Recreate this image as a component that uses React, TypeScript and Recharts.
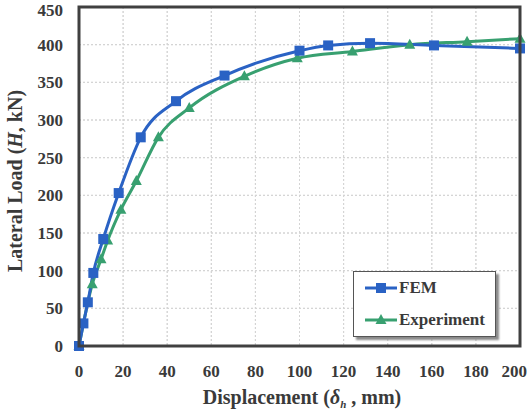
import React from "react"
import { LineChart, Line, XAxis, YAxis, CartesianGrid, Label } from "recharts"

// displacement (mm) / lateral load (kN) pairs
const femDisp = [0, 2, 4, 6.5, 11, 18, 28, 44, 66, 100, 113, 132, 161, 200]
const femLoad = [0, 30, 58, 97, 142, 203, 277, 325, 359, 392, 399, 402, 399, 395]

const expDisp = [0, 6, 10, 13, 19, 26, 36, 50, 75, 99, 124, 150, 176, 200]
const expLoad = [0, 82, 115, 140, 181, 219, 277, 316, 358, 382, 391, 400, 404, 408]

const xTicks = [0, 20, 40, 60, 80, 100, 120, 140, 160, 180, 200]
const yTicks = [0, 50, 100, 150, 200, 250, 300, 350, 400, 450]

const femData = femDisp.map((d, i) => ({ disp: d, load: femLoad[i] }))
const expData = expDisp.map((d, i) => ({ disp: d, load: expLoad[i] }))

const W = 527
const H = 411
const MARGIN = { top: 7, right: 7, bottom: 0, left: 0 }
const Y_AXIS_W = 79
const X_AXIS_H = 65
// plot box that follows from the margins and axis sizes above
const PLOT = {
  x: MARGIN.left + Y_AXIS_W,
  y: MARGIN.top,
  w: W - MARGIN.left - MARGIN.right - Y_AXIS_W,
  h: H - MARGIN.top - MARGIN.bottom - X_AXIS_H,
}

const BLUE = "#2a62c4"
const GREEN = "#38a070"
const INK = "#3a3a3a"
const FRAME = "#404040"
const GRID = "#d4d4d4"
const SERIF = "Liberation Serif"

const tickStyle = { fill: INK, fontSize: 17, fontWeight: "bold", fontFamily: SERIF }

const gx = (v: number) => PLOT.x + ((v - xTicks[0]) / (xTicks[xTicks.length - 1] - xTicks[0])) * PLOT.w
const gy = (v: number) => PLOT.y + PLOT.h - ((v - yTicks[0]) / (yTicks[yTicks.length - 1] - yTicks[0])) * PLOT.h

// dotted grid, sits under the chart svg
const GridLayer = () => (
  <svg width={W} height={H} style={{ position: "absolute", left: 0, top: 0, pointerEvents: "none" }}>
    {xTicks.slice(1, -1).map((v) => (
      <line key={`gx-${v}`} x1={gx(v)} x2={gx(v)} y1={PLOT.y} y2={PLOT.y + PLOT.h} stroke={GRID} strokeDasharray="2 2" />
    ))}
    {yTicks.slice(1, -1).map((v) => (
      <line key={`gy-${v}`} x1={PLOT.x} x2={PLOT.x + PLOT.w} y1={gy(v)} y2={gy(v)} stroke={GRID} strokeDasharray="2 2" />
    ))}
  </svg>
)

// dark box around the plot, sits over the chart svg
const FrameLayer = () => (
  <svg width={W} height={H} style={{ position: "absolute", left: 0, top: 0, pointerEvents: "none" }}>
    <rect x={PLOT.x} y={PLOT.y} width={PLOT.w} height={PLOT.h} fill="none" stroke={FRAME} strokeWidth={3} />
  </svg>
)

const SquareDot = (props: any) => {
  const { cx, cy, index } = props
  return <rect key={`sq-${index}`} x={cx - 5} y={cy - 5} width={10} height={10} fill={BLUE} />
}

const TriangleDot = (props: any) => {
  const { cx, cy, index } = props
  return (
    <polygon
      key={`tr-${index}`}
      points={`${cx},${cy - 6} ${cx - 5.5},${cy + 4} ${cx + 5.5},${cy + 4}`}
      fill={GREEN}
    />
  )
}

const legendItems = [
  { name: "FEM", color: BLUE, shape: "square" },
  { name: "Experiment", color: GREEN, shape: "triangle" },
]

const LegendBox = () => (
  <div
    style={{
      position: "absolute",
      left: 353,
      top: 271,
      width: 143,
      height: 66,
      background: "#fff",
      border: "1px solid #555",
      boxShadow: "3px 3px 2px #8a8a8a",
      fontFamily: SERIF,
      fontWeight: "bold",
      fontSize: 17,
      color: INK,
      boxSizing: "border-box",
    }}
  >
    {legendItems.map((it) => (
      <div key={it.name} style={{ display: "flex", alignItems: "center", height: 32, paddingLeft: 11 }}>
        <svg width={32} height={14} style={{ marginRight: 2 }}>
          <line x1={0} y1={7} x2={32} y2={7} stroke={it.color} strokeWidth={3} />
          {it.shape === "square" ? (
            <rect x={11} y={2} width={10} height={10} fill={it.color} />
          ) : (
            <polygon points="16,1 10.5,11 21.5,11" fill={it.color} />
          )}
        </svg>
        <span>{it.name}</span>
      </div>
    ))}
  </div>
)

export default function App() {
  return (
    <div style={{ position: "absolute", left: 0, top: 0, width: W, height: H, background: "#fff" }}>
      <GridLayer />
      <div style={{ position: "absolute", left: 0, top: 0 }}>
        <LineChart width={W} height={H} data={femData} margin={MARGIN}>
          <CartesianGrid stroke={GRID} strokeDasharray="2 2" />
          <XAxis
            dataKey="disp"
            type="number"
            domain={[0, 200]}
            ticks={xTicks}
            axisLine={false}
            tickLine={false}
            tickMargin={13}
            height={X_AXIS_H}
            tick={tickStyle}
          >
            <Label
              content={() => (
                <text x={302} y={404} textAnchor="middle" fill={INK} fontFamily={SERIF} fontWeight="bold" fontSize={20}>
                  Displacement (<tspan fontStyle="italic">δ</tspan>
                  <tspan fontSize={11} dy={4} fontStyle="italic">h</tspan>
                  <tspan dy={-4}> , mm)</tspan>
                </text>
              )}
            />
          </XAxis>
          <YAxis
            type="number"
            domain={[0, 450]}
            ticks={yTicks}
            axisLine={false}
            tickLine={false}
            tickMargin={10}
            width={Y_AXIS_W}
            tick={tickStyle}
          >
            <Label
              content={() => (
                <text
                  x={15}
                  y={181}
                  transform="rotate(-90, 15, 181)"
                  textAnchor="middle"
                  dy="0.35em"
                  fill={INK}
                  fontFamily={SERIF}
                  fontWeight="bold"
                  fontSize={20}
                >
                  Lateral Load (<tspan fontStyle="italic">H</tspan>, kN)
                </text>
              )}
            />
          </YAxis>
          <Line
            data={expData}
            dataKey="load"
            type="monotone"
            stroke={GREEN}
            strokeWidth={3}
            dot={TriangleDot}
            isAnimationActive={false}
          />
          <Line
            dataKey="load"
            type="monotone"
            stroke={BLUE}
            strokeWidth={3}
            dot={SquareDot}
            isAnimationActive={false}
          />
        </LineChart>
      </div>
      <FrameLayer />
      <LegendBox />
    </div>
  )
}
